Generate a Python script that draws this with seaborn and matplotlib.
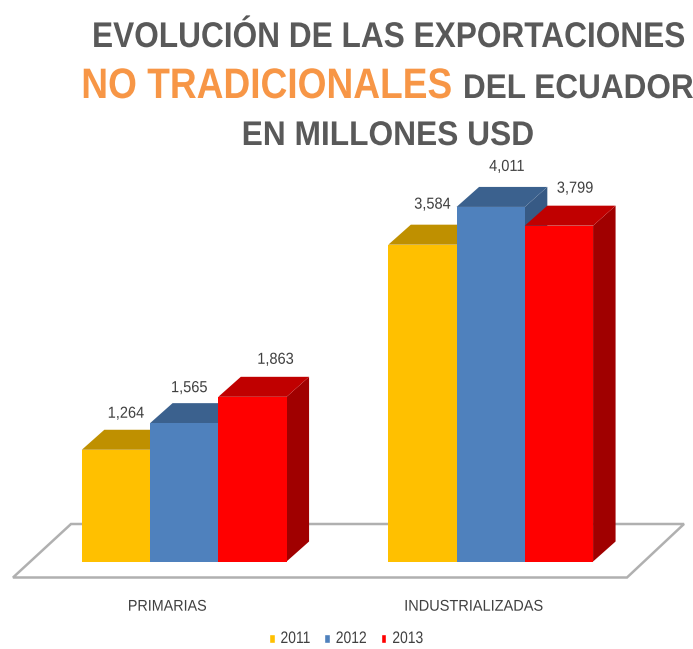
import pandas as pd
import matplotlib
matplotlib.use("Agg")
import matplotlib.pyplot as plt
from matplotlib.patches import Polygon
from matplotlib.patheffects import AbstractPathEffect
from matplotlib.transforms import Affine2D, offset_copy
import seaborn as sns

# Datos
categorias = ["PRIMARIAS", "INDUSTRIALIZADAS"]
anios = ["2011", "2012", "2013"]
valores_2011 = [1264, 3584]
valores_2012 = [1565, 4011]
valores_2013 = [1863, 3799]

colores = ["#FFC000", "#4F81BD", "#FF0000"]
colores_techo = ["#BF9000", "#3B618E", "#C00000"]
colores_lado = ["#A67C00", "#375A85", "#A00000"]

df = pd.DataFrame({
    "categoria": categorias * 3,
    "anio": [a for a in anios for _ in categorias],
    "valor": valores_2011 + valores_2012 + valores_2013,
})

W, H = 693, 649
BASE_PX = 561.5


# El texto original es condensado: se estira sobre su centro y su linea base
class Ajuste(AbstractPathEffect):
    def __init__(self, sx=1.0, sy=1.0, ancho=None):
        super().__init__()
        self.sx, self.sy, self.ancho = sx, sy, ancho

    def draw_path(self, renderer, gc, tpath, affine, rgbFace=None):
        caja = tpath.get_extents(affine)
        sx = self.sx if self.ancho is None else self.ancho / caja.width
        cx = (caja.x0 + caja.x1) / 2
        base = affine.get_matrix()[1, 2]
        extra = Affine2D().translate(-cx, -base).scale(sx, self.sy).translate(cx, base)
        renderer.draw_path(gc, tpath, affine + extra, rgbFace)


sns.set_style("white")
plt.rcParams["font.family"] = ["Liberation Sans", "DejaVu Sans"]

fig = plt.figure(figsize=(W / 100, H / 100), dpi=100)
ax = fig.add_axes([0, (H - BASE_PX) / H, 1, BASE_PX / H])

sns.barplot(data=df, x="categoria", y="valor", hue="anio", palette=colores,
            width=0.668, gap=0, saturation=1, ax=ax, order=categorias)

# 306.5 px entre grupos, 0.0884 px por unidad
ax.set_xlim(-184.2 / 306.5, (W - 184.2) / 306.5)
ax.set_ylim(0, BASE_PX / 0.0884)
ax.set_xlabel("")
ax.set_ylabel("")
ax.set_yticks([])
ax.tick_params(axis="x", length=0, pad=27.5, labelsize=10, labelcolor="#404040")
sns.despine(ax=ax, left=True, bottom=True)
ax.patch.set_alpha(0)

# Las etiquetas del eje van corridas a la izquierda
anchos_eje = [77, 137]
for lab, ancho in zip(ax.get_xticklabels(), anchos_eje):
    lab.set_transform(offset_copy(lab.get_transform(), fig=fig, x=-17, y=0, units="dots"))
    lab.set_path_effects([Ajuste(sy=1.12, ancho=ancho)])


def px(x, y):
    return (x / W, 1 - y / H)


# Piso
piso = [px(13, 577.5), px(627, 577.5), px(684, 524), px(71, 524)]
fig.add_artist(Polygon(piso, closed=True, facecolor="white", edgecolor="#B0B0B0",
                       linewidth=1.8, transform=fig.transFigure, zorder=0))
ax.set_zorder(2)

# Caras 3D
dx = 22.5 / 306.5
dy = 20 / 0.0884
etiqueta_dx = [[10, 10], [5, 16], [23, 16]]
etiqueta_dy = [[36, 40], [35, 40], [37, 37]]

z = 3
for i, cont in enumerate(ax.containers):
    for j, bar in enumerate(cont):
        x0, w, h = bar.get_x(), bar.get_width(), bar.get_height()
        techo = [(x0, h), (x0 + dx, h + dy), (x0 + w + dx, h + dy), (x0 + w, h)]
        lado = [(x0 + w, 0), (x0 + w + dx, dy), (x0 + w + dx, h + dy), (x0 + w, h)]
        ax.add_patch(Polygon(lado, facecolor=colores_lado[i], linewidth=0, zorder=z + j * 10))
        ax.add_patch(Polygon(techo, facecolor=colores_techo[i], linewidth=0, zorder=z + j * 10))
        bar.set_zorder(z + 1 + j * 10)
        bar.set_linewidth(0)
        t = ax.annotate(f"{h:,.0f}", (x0 + w / 2, h),
                        xytext=(etiqueta_dx[i][j] * 0.72, (etiqueta_dy[i][j] - 4) * 0.72),
                        textcoords="offset points", ha="center", va="baseline",
                        fontsize=10, color="#404040", zorder=50)
        t.set_path_effects([Ajuste(sx=1.05, sy=1.15)])
    z += 3

# Leyenda
leg = ax.legend(loc="center", ncols=3, frameon=False, handlelength=0.43, handleheight=0.62,
                handletextpad=0.42, columnspacing=0.98, fontsize=10)
leg.set_bbox_to_anchor(px(346, 639), transform=fig.transFigure)
for t in leg.get_texts():
    t.set_color("#404040")
    t.set_path_effects([Ajuste(sy=1.2)])

# Titulo
gris = "#595959"
naranja = "#F79646"
titulo = [
    ("EVOLUCIÓN DE LAS EXPORTACIONES", 388, 47, 22, gris, 590, 1.168),
    ("NO TRADICIONALES", 266.5, 98, 26, naranja, 367, 1.18),
    ("DEL ECUADOR", 578, 98, 22, gris, 228, 1.12),
    ("EN MILLONES USD", 387.5, 145, 22, gris, 289, 1.12),
]
for texto, x, y, tam, color, ancho, sy in titulo:
    t = fig.text(*px(x, y), texto, ha="center", va="baseline",
                 fontsize=tam, fontweight="bold", color=color)
    t.set_path_effects([Ajuste(sy=sy, ancho=ancho)])

fig.savefig("out.png", dpi=100)
